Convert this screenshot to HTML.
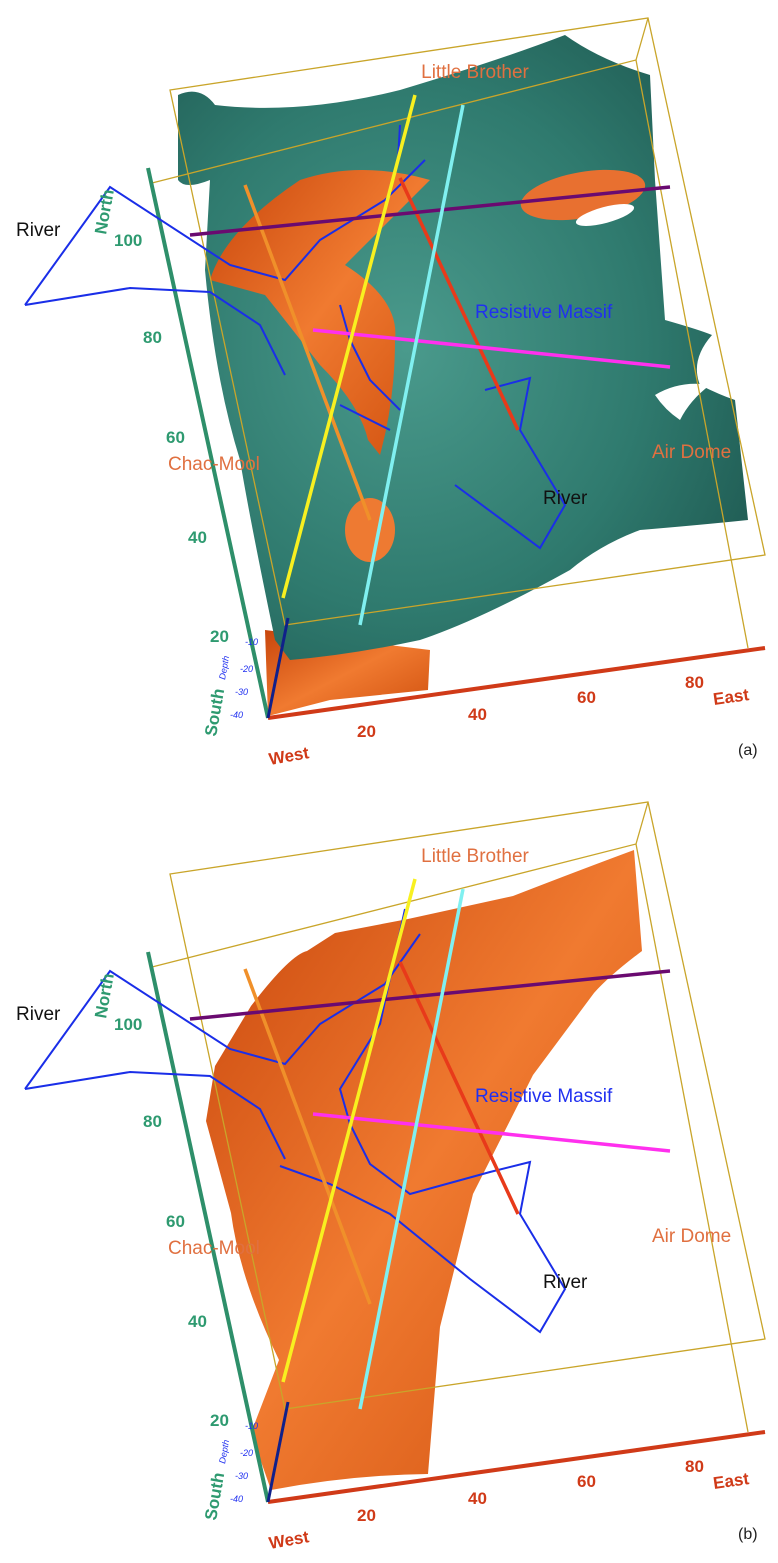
<!DOCTYPE html>
<html><head><meta charset="utf-8"><style>
html,body{margin:0;padding:0;background:#fff}
svg{display:block}
text{font-family:"Liberation Sans",Arial,sans-serif}
</style></head><body>
<svg width="778" height="1563" viewBox="0 0 778 1563" xmlns="http://www.w3.org/2000/svg">
<defs>
<radialGradient id="teal" cx="0.4" cy="0.5" r="0.7"><stop offset="0" stop-color="#4a9a8c"/><stop offset="0.6" stop-color="#2f7a6e"/><stop offset="1" stop-color="#1f5a52"/></radialGradient>
<linearGradient id="org" x1="0" y1="0" x2="1" y2="1"><stop offset="0" stop-color="#c8460c"/><stop offset="0.5" stop-color="#f07a30"/><stop offset="1" stop-color="#d0500f"/></linearGradient>
</defs>

<!-- PANEL A surfaces -->
<path d="M265,630 L430,650 L428,690 L330,700 L268,716 Z" fill="url(#org)"/>
<path d="M178,95 Q200,85 215,105 Q300,115 400,90 Q500,60 565,35 Q600,60 650,75 L655,180 L665,320 Q700,330 712,335 Q690,360 700,385 Q720,395 735,400 L748,520 Q700,525 640,530 Q600,545 570,570 Q480,620 420,640 Q350,655 290,660 L275,640 Q250,520 240,460 Q215,380 205,270 L210,180 Q185,190 178,180 Z" fill="url(#teal)"/>
<path d="M210,280 Q225,230 300,180 Q360,160 430,180 Q380,230 345,265 Q400,300 395,340 Q395,400 380,455 L368,440 Q360,405 320,365 Q285,320 265,295 Z" fill="url(#org)"/>
<ellipse cx="583" cy="195" rx="63" ry="23" fill="#e87030" transform="rotate(-10 583 195)"/>
<ellipse cx="370" cy="530" rx="25" ry="32" fill="#ee7a32"/>
<ellipse cx="605" cy="215" rx="30" ry="8" fill="#fff" transform="rotate(-15 605 215)"/>
<path d="M655,395 Q680,380 710,385 Q690,400 680,420 Q665,410 655,395 Z" fill="#fff"/>

<!-- PANEL B surface -->
<path d="M251,1006 Q290,955 307,951 L335,933 L408,919 L513,896 Q580,870 634,850 L642,951 Q610,975 594,993 L533,1075 L473,1194 L440,1327 L428,1474 Q350,1475 271,1490 L251,1433 L279,1360 Q240,1280 231,1213 L206,1121 L215,1066 Z" fill="url(#org)"/>

<!-- overlays panel A and B -->
<g id="ovA">
<g fill="none" stroke="#c9a52a" stroke-width="1.3">
<path d="M170,90 L648,18 L765,555 L285,625 Z"/>
<path d="M152,183 L636,60 L748,648"/>
<path d="M648,18 L636,60"/>
</g>
<line x1="148" y1="168" x2="268" y2="718" stroke="#2e8f6a" stroke-width="4"/>
<line x1="268" y1="718" x2="765" y2="648" stroke="#d03a18" stroke-width="4"/>
<line x1="268" y1="718" x2="288" y2="618" stroke="#10208a" stroke-width="3"/>
<g fill="none" stroke="#1a2ee8" stroke-width="2">
<path d="M25,305 L110,187 L230,265 L285,280 L320,240 L385,200 L425,160"/>
<path d="M25,305 L130,288 L210,292 L260,325 L285,375"/>
<path d="M340,305 L350,340 L370,380 L400,410"/>
<path d="M340,405 L390,430"/>
<path d="M485,390 L530,378 L520,430 L565,505 L540,548 L455,485"/>
<path d="M400,125 L398,160"/>
</g>
<g stroke-width="3.5" fill="none">
<line x1="245" y1="185" x2="370" y2="520" stroke="#f0902a"/>
<line x1="400" y1="178" x2="518" y2="430" stroke="#e83a1a"/>
<line x1="190" y1="235" x2="670" y2="187" stroke="#6a0a70"/>
<line x1="313" y1="330" x2="670" y2="367" stroke="#ff30ee"/>
<line x1="283" y1="598" x2="415" y2="95" stroke="#f8f020"/>
<line x1="360" y1="625" x2="463" y2="105" stroke="#80f0f0"/>
</g>
<text x="475" y="78" font-size="19" fill="#e07040" text-anchor="middle">Little Brother</text>
<text x="168" y="470" font-size="19" fill="#e07040">Chac-Mool</text>
<text x="652" y="458" font-size="19" fill="#e07040">Air Dome</text>
<text x="475" y="318" font-size="19" fill="#2030f0">Resistive Massif</text>
<text x="16" y="236" font-size="19" fill="#111">River</text>
<text x="543" y="504" font-size="19" fill="#111">River</text>
<g font-size="17" fill="#2e9a70" font-weight="bold">
<text x="114" y="246">100</text><text x="143" y="343">80</text><text x="166" y="443">60</text><text x="188" y="543">40</text><text x="210" y="642">20</text>
<text transform="translate(106,235) rotate(-80)">North</text>
<text transform="translate(216,737) rotate(-80)">South</text>
</g>
<g font-size="17" fill="#d03a18" font-weight="bold">
<text x="357" y="737">20</text><text x="468" y="720">40</text><text x="577" y="703">60</text><text x="685" y="688">80</text>
<text transform="translate(714,705) rotate(-8)">East</text>
<text transform="translate(270,765) rotate(-10)">West</text>
</g>
<g font-size="9" fill="#2030f0" font-style="italic">
<text x="245" y="645">-10</text><text x="240" y="672">-20</text><text x="235" y="695">-30</text><text x="230" y="718">-40</text>
<text transform="translate(225,680) rotate(-80)">Depth</text>
</g>
<text x="738" y="755" font-size="16" fill="#222">(a)</text>
</g>

<g transform="translate(0,784)">
<g fill="none" stroke="#c9a52a" stroke-width="1.3">
<path d="M170,90 L648,18 L765,555 L285,625 Z"/>
<path d="M152,183 L636,60 L748,648"/>
<path d="M648,18 L636,60"/>
</g>
<line x1="148" y1="168" x2="268" y2="718" stroke="#2e8f6a" stroke-width="4"/>
<line x1="268" y1="718" x2="765" y2="648" stroke="#d03a18" stroke-width="4"/>
<line x1="268" y1="718" x2="288" y2="618" stroke="#10208a" stroke-width="3"/>
<g fill="none" stroke="#1a2ee8" stroke-width="2">
<path d="M25,305 L110,187 L230,265 L285,280 L320,240 L385,200 L420,150"/>
<path d="M25,305 L130,288 L210,292 L260,325 L285,375"/>
<path d="M280,382 L330,400 L390,430 L470,495 L540,548 L565,505 L520,430 L530,378 L490,388 L410,410 L370,380 L350,340 L340,305 L380,240 L405,125"/>
</g>
<g stroke-width="3.5" fill="none">
<line x1="245" y1="185" x2="370" y2="520" stroke="#f0902a"/>
<line x1="400" y1="178" x2="518" y2="430" stroke="#e83a1a"/>
<line x1="190" y1="235" x2="670" y2="187" stroke="#6a0a70"/>
<line x1="313" y1="330" x2="670" y2="367" stroke="#ff30ee"/>
<line x1="283" y1="598" x2="415" y2="95" stroke="#f8f020"/>
<line x1="360" y1="625" x2="463" y2="105" stroke="#80f0f0"/>
</g>
<text x="475" y="78" font-size="19" fill="#e07040" text-anchor="middle">Little Brother</text>
<text x="168" y="470" font-size="19" fill="#e07040">Chac-Mool</text>
<text x="652" y="458" font-size="19" fill="#e07040">Air Dome</text>
<text x="475" y="318" font-size="19" fill="#2030f0">Resistive Massif</text>
<text x="16" y="236" font-size="19" fill="#111">River</text>
<text x="543" y="504" font-size="19" fill="#111">River</text>
<g font-size="17" fill="#2e9a70" font-weight="bold">
<text x="114" y="246">100</text><text x="143" y="343">80</text><text x="166" y="443">60</text><text x="188" y="543">40</text><text x="210" y="642">20</text>
<text transform="translate(106,235) rotate(-80)">North</text>
<text transform="translate(216,737) rotate(-80)">South</text>
</g>
<g font-size="17" fill="#d03a18" font-weight="bold">
<text x="357" y="737">20</text><text x="468" y="720">40</text><text x="577" y="703">60</text><text x="685" y="688">80</text>
<text transform="translate(714,705) rotate(-8)">East</text>
<text transform="translate(270,765) rotate(-10)">West</text>
</g>
<g font-size="9" fill="#2030f0" font-style="italic">
<text x="245" y="645">-10</text><text x="240" y="672">-20</text><text x="235" y="695">-30</text><text x="230" y="718">-40</text>
<text transform="translate(225,680) rotate(-80)">Depth</text>
</g>
<text x="738" y="755" font-size="16" fill="#222">(b)</text>
</g>
</svg>
</body></html>
